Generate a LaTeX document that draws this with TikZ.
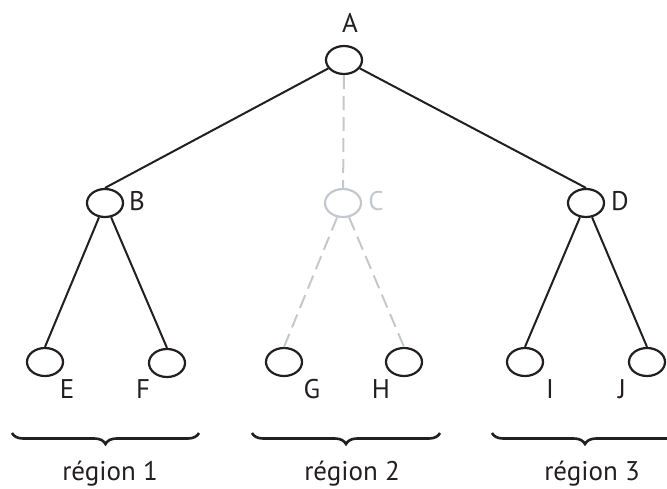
\documentclass[tikz,border=0pt]{standalone}
\usepackage{fontspec}
\setmainfont{PT Sans}
\usetikzlibrary{shapes.geometric,decorations.pathreplacing}
\definecolor{lightg}{RGB}{196,200,206}
\definecolor{ink}{RGB}{35,31,32}
\begin{document}
\begin{tikzpicture}[x=1pt,y=-1pt,
  vert/.style={ellipse,draw=ink,line width=2.2pt,minimum width=36pt,minimum height=28pt,inner sep=0pt},
  ghost/.style={vert,draw=lightg},
  lbl/.style={anchor=base,inner sep=0pt,text=ink,font=\fontsize{27}{32}\selectfont},
  glbl/.style={lbl,text=lightg},
  edge/.style={line width=2pt,draw=ink},
  gedge/.style={line width=2pt,draw=lightg,dash pattern=on 14pt off 7pt},
  br/.style={decorate,decoration={brace,mirror,amplitude=11pt},line width=2.6pt,draw=ink}]
\useasboundingbox (0,0) rectangle (667,488);
\clip (0,0) rectangle (667,488);
% vertices
\node[vert] (A) at (344,60) {};
\node[vert] (B) at (105,203) {};
\node[ghost] (C) at (343,203) {};
\node[vert] (D) at (586,203) {};
\node[vert] (E) at (45,362) {};
\node[vert] (F) at (167,363) {};
\node[vert] (G) at (284,362) {};
\node[vert] (H) at (404,362) {};
\node[vert] (I) at (525,362) {};
\node[vert] (J) at (647,362) {};
% labels
\node[lbl] (lA) at (350,32) {A};
\node[lbl] (lB) at (137,210) {B};
\node[glbl] (lC) at (376,210) {C};
\node[lbl] (lD) at (620,210) {D};
\node[lbl] (lE) at (67,398) {E};
\node[lbl] (lF) at (143,398) {F};
\node[lbl] (lG) at (312,398) {G};
\node[lbl] (lH) at (381,398) {H};
\node[lbl] (lI) at (550,398) {I};
\node[lbl] (lJ) at (622,398) {J};
% edges
\draw[edge] (A) -- (B.north);
\draw[edge] (A) -- (D.north);
\draw[gedge] (A) -- (C);
\draw[edge] (B) -- (E.north);
\draw[edge] (B) -- (F.north);
\draw[gedge] (C) -- (G.north);
\draw[gedge] (C) -- (H.north);
\draw[edge] (D) -- (I.north);
\draw[edge] (D) -- (J.north);
% braces
\coordinate (r1a) at (12,433);
\coordinate (r1b) at (199,433);
\coordinate (r2a) at (252,433);
\coordinate (r2b) at (440,433);
\coordinate (r3a) at (492,433);
\coordinate (r3b) at (678,433);
\draw[br] (r1a) -- (r1b);
\draw[br] (r2a) -- (r2b);
\draw[br] (r3a) -- (r3b);
\node[lbl] (t1) at (110,480) {région 1};
\node[lbl] (t2) at (352,480) {région 2};
\node[lbl] (t3) at (592,480) {région 3};
\end{tikzpicture}
\end{document}
